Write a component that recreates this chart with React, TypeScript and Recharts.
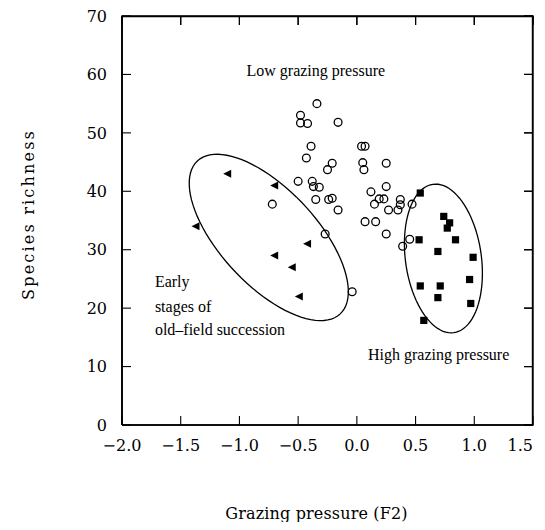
import React from "react";
import { ScatterChart, Scatter, XAxis, YAxis } from "recharts";

// sites under low grazing pressure (open circles)
const lowX = [-0.34, -0.48, -0.48, -0.42, -0.16, -0.39, -0.43, -0.21, -0.25, -0.5, -0.38, -0.37, -0.32, -0.72, -0.35, -0.24, -0.21, -0.16, -0.27, -0.04, 0.04, 0.07, 0.05, 0.06, 0.25, 0.25, 0.12, 0.15, 0.19, 0.23, 0.27, 0.35, 0.37, 0.37, 0.47, 0.07, 0.16, 0.25, 0.45, 0.39];
const lowY = [55, 53, 51.7, 51.6, 51.8, 47.7, 45.7, 44.8, 43.7, 41.7, 41.7, 40.8, 40.7, 37.8, 38.6, 38.6, 38.8, 36.8, 32.7, 22.8, 47.7, 47.7, 44.9, 43.7, 44.8, 40.8, 39.9, 37.8, 38.7, 38.7, 36.8, 36.8, 38.6, 37.7, 37.8, 34.8, 34.8, 32.7, 31.8, 30.6];

// early stages of old-field succession (triangles)
const earlyX = [-1.1, -0.7, -1.37, -0.42, -0.7, -0.55, -0.49];
const earlyY = [43, 41, 34, 31, 29, 27, 22];

// high grazing pressure (filled squares)
const highX = [0.54, 0.74, 0.79, 0.77, 0.53, 0.84, 0.69, 0.99, 0.96, 0.54, 0.71, 0.69, 0.97, 0.57];
const highY = [39.7, 35.7, 34.6, 33.7, 31.7, 31.7, 29.7, 28.7, 24.9, 23.8, 23.8, 21.8, 20.8, 17.9];

// group ellipses: centre and two conjugate semi-axes, in data units
const earlyEllipse = [-0.75, 32.1, 0.608, -13.09, 0.299, 5.6];
const highEllipse = [0.737, 28.5, 0.089, -12.7, 0.32, 0.91];

// text annotations (left x, baseline y)
const noteText = ["Low grazing pressure", "High grazing pressure", "Early", "stages of", "old\u2013field succession"];
const noteX = [-0.94, 0.095, -1.72, -1.72, -1.72];
const noteY = [59.7, 11.1, 23.7, 19.4, 15.4];

const xDomain = [-2, 1.5];
const yDomain = [0, 70];
const xTicks = [-2, -1.5, -1, -0.5, 0, 0.5, 1, 1.5];
const yTicks = [0, 10, 20, 30, 40, 50, 60, 70];

const FONT = "'DejaVu Serif', serif";
const NOTE_FONT = "'Liberation Serif', serif";
const TICK_LEN = 9;
const GAP = 15;

// chart box and plot area inside it
const W = 529;
const H = 514;
const MARGIN = { top: 8, right: 4, bottom: 37, left: 0 };
const Y_AXIS_W = 114;
const X_AXIS_H = 60;
const PLOT = {
  left: MARGIN.left + Y_AXIS_W,
  right: W - MARGIN.right,
  top: MARGIN.top,
  bottom: H - MARGIN.bottom - X_AXIS_H,
};

const zip = (xs: number[], ys: number[]) => xs.map((x, i) => ({ x, y: ys[i] }));
const lowData = zip(lowX, lowY);
const earlyData = zip(earlyX, earlyY);
const highData = zip(highX, highY);
const notes = noteText.map((text, i) => ({ x: noteX[i], y: noteY[i], text }));

// box round the plot, and the inward ticks on its top and right sides
const frame = zip([xDomain[0], xDomain[1], xDomain[1], xDomain[0], xDomain[0]], [yDomain[0], yDomain[0], yDomain[1], yDomain[1], yDomain[0]]);
const topTicks = xTicks.map((x) => ({ x, y: yDomain[1] }));
const rightTicks = yTicks.map((y) => ({ x: xDomain[1], y }));

const outline = (e: number[]) => {
  const [cx, cy, ux, uy, vx, vy] = e;
  const pts = [];
  for (let i = 0; i <= 90; i++) {
    const t = (i / 90) * Math.PI * 2;
    pts.push({ x: cx + ux * Math.cos(t) + vx * Math.sin(t), y: cy + uy * Math.cos(t) + vy * Math.sin(t) });
  }
  return pts;
};

const fmtX = (v: number) => (v < 0 ? "\u2212" : "") + Math.abs(v).toFixed(1);

const OpenCircle = (p: any) => <circle cx={p.cx} cy={p.cy} r={3.9} fill="#fff" fillOpacity={0} stroke="#000" strokeWidth={1.3} />;
const Square = (p: any) => <rect x={p.cx - 3.6} y={p.cy - 3.6} width={7.2} height={7.2} fill="#000" />;
const LeftTriangle = (p: any) => (
  <polygon points={`${p.cx - 4.5},${p.cy} ${p.cx + 3.5},${p.cy - 4} ${p.cx + 3.5},${p.cy + 4}`} fill="#000" />
);
const Note = (p: any) => (
  <text x={p.cx} y={p.cy} fontFamily={NOTE_FONT} fontSize={16} fill="#000">
    {p.payload.text}
  </text>
);
const Nothing = () => <g />;
const TopTickMark = (p: any) => <line x1={p.cx} x2={p.cx} y1={p.cy} y2={p.cy + TICK_LEN} stroke="#000" strokeWidth={1.2} />;
const RightTickMark = (p: any) => <line x1={p.cx} x2={p.cx - TICK_LEN} y1={p.cy} y2={p.cy} stroke="#000" strokeWidth={1.2} />;

const BottomTick = (p: any) => {
  const v = p.payload.value;
  const last = v === xTicks[xTicks.length - 1];
  return (
    <g>
      <line x1={p.x} x2={p.x} y1={p.y - GAP} y2={p.y - GAP - TICK_LEN} stroke="#000" strokeWidth={1.1} />
      <text x={p.x} y={p.y} dy="0.71em" textAnchor={last ? "end" : "middle"} fontFamily={FONT} fontSize={16} fill="#000">
        {fmtX(v)}
      </text>
    </g>
  );
};
const LeftTick = (p: any) => (
  <g>
    <line x1={p.x + GAP} x2={p.x + GAP + TICK_LEN} y1={p.y} y2={p.y} stroke="#000" strokeWidth={1.1} />
    <text x={p.x} y={p.y} dy="0.36em" textAnchor="end" fontFamily={FONT} fontSize={16} fill="#000">
      {p.payload.value}
    </text>
  </g>
);

const YTitle = (p: any) => {
  const vb = p.viewBox || { x: 0, y: 8, width: 114, height: 409 };
  const x = vb.x + 25.5;
  const y = vb.y + vb.height / 2 - 6;
  return (
    <text x={x} y={y} transform={`rotate(-90, ${x}, ${y})`} textAnchor="middle" fontFamily={FONT} fontSize={16} letterSpacing={2.2} fill="#000">
      Species richness
    </text>
  );
};

const XTitle = (p: any) => {
  const vb = p.viewBox || { x: 114, y: 417, width: 411, height: 60 };
  const x = vb.x + vb.width / 2 - 11;
  const y = vb.y + 94;
  return (
    <text x={x} y={y} textAnchor="middle" fontFamily={FONT} fontSize={16} letterSpacing={0.15} fill="#000">
      Grazing pressure (F2)
    </text>
  );
};

// same box drawn again on top of the chart, in case the series above is not shown
const Frame = () => {
  const pw = PLOT.right - PLOT.left;
  const ph = PLOT.bottom - PLOT.top;
  const sx = (v: number) => PLOT.left + ((v - xDomain[0]) / (xDomain[1] - xDomain[0])) * pw;
  const sy = (v: number) => PLOT.bottom - ((v - yDomain[0]) / (yDomain[1] - yDomain[0])) * ph;
  return (
    <svg width={W} height={H} style={{ position: "absolute", left: 0, top: 0, pointerEvents: "none", zIndex: 2 }}>
      <path
        d={`M${PLOT.left},${PLOT.top + 0.5} H${PLOT.right - 0.5} V${PLOT.bottom} M${PLOT.left},${PLOT.bottom} V${PLOT.top}`}
        fill="none"
        stroke="#000"
        strokeWidth={1.4}
      />
      {xTicks.map((v) => (
        <line key={`t${v}`} x1={sx(v)} x2={sx(v)} y1={PLOT.top} y2={PLOT.top + TICK_LEN} stroke="#000" strokeWidth={1.2} />
      ))}
      {yTicks.map((v) => (
        <line key={`r${v}`} x1={PLOT.right} x2={PLOT.right - TICK_LEN} y1={sy(v)} y2={sy(v)} stroke="#000" strokeWidth={1.2} />
      ))}
    </svg>
  );
};

const lineStyle = { stroke: "#000", strokeWidth: 1.3 };

export default function App() {
  return (
    <div style={{ position: "relative", width: W, height: H }}>
      <ScatterChart width={W} height={H} margin={MARGIN}>
        <XAxis
          dataKey="x"
          type="number"
          domain={xDomain}
          ticks={xTicks}
          interval={0}
          height={X_AXIS_H}
          tickSize={0}
          tickMargin={GAP}
          tick={BottomTick}
          tickLine={false}
          axisLine={lineStyle}
          label={<XTitle />}
        />
        <YAxis
          dataKey="y"
          type="number"
          domain={yDomain}
          ticks={yTicks}
          interval={0}
          width={Y_AXIS_W}
          tickSize={0}
          tickMargin={GAP}
          tick={LeftTick}
          tickLine={false}
          axisLine={lineStyle}
          label={<YTitle />}
        />
        <Scatter data={frame} line={lineStyle} lineType="joint" shape={Nothing} isAnimationActive={false} />
        <Scatter data={topTicks} shape={TopTickMark} isAnimationActive={false} />
        <Scatter data={rightTicks} shape={RightTickMark} isAnimationActive={false} />
        <Scatter data={outline(earlyEllipse)} line={lineStyle} lineType="joint" shape={Nothing} isAnimationActive={false} />
        <Scatter data={outline(highEllipse)} line={lineStyle} lineType="joint" shape={Nothing} isAnimationActive={false} />
        <Scatter data={lowData} shape={OpenCircle} isAnimationActive={false} />
        <Scatter data={earlyData} shape={LeftTriangle} isAnimationActive={false} />
        <Scatter data={highData} shape={Square} isAnimationActive={false} />
        <Scatter data={notes} shape={Note} isAnimationActive={false} />
      </ScatterChart>
      <Frame />
    </div>
  );
}
